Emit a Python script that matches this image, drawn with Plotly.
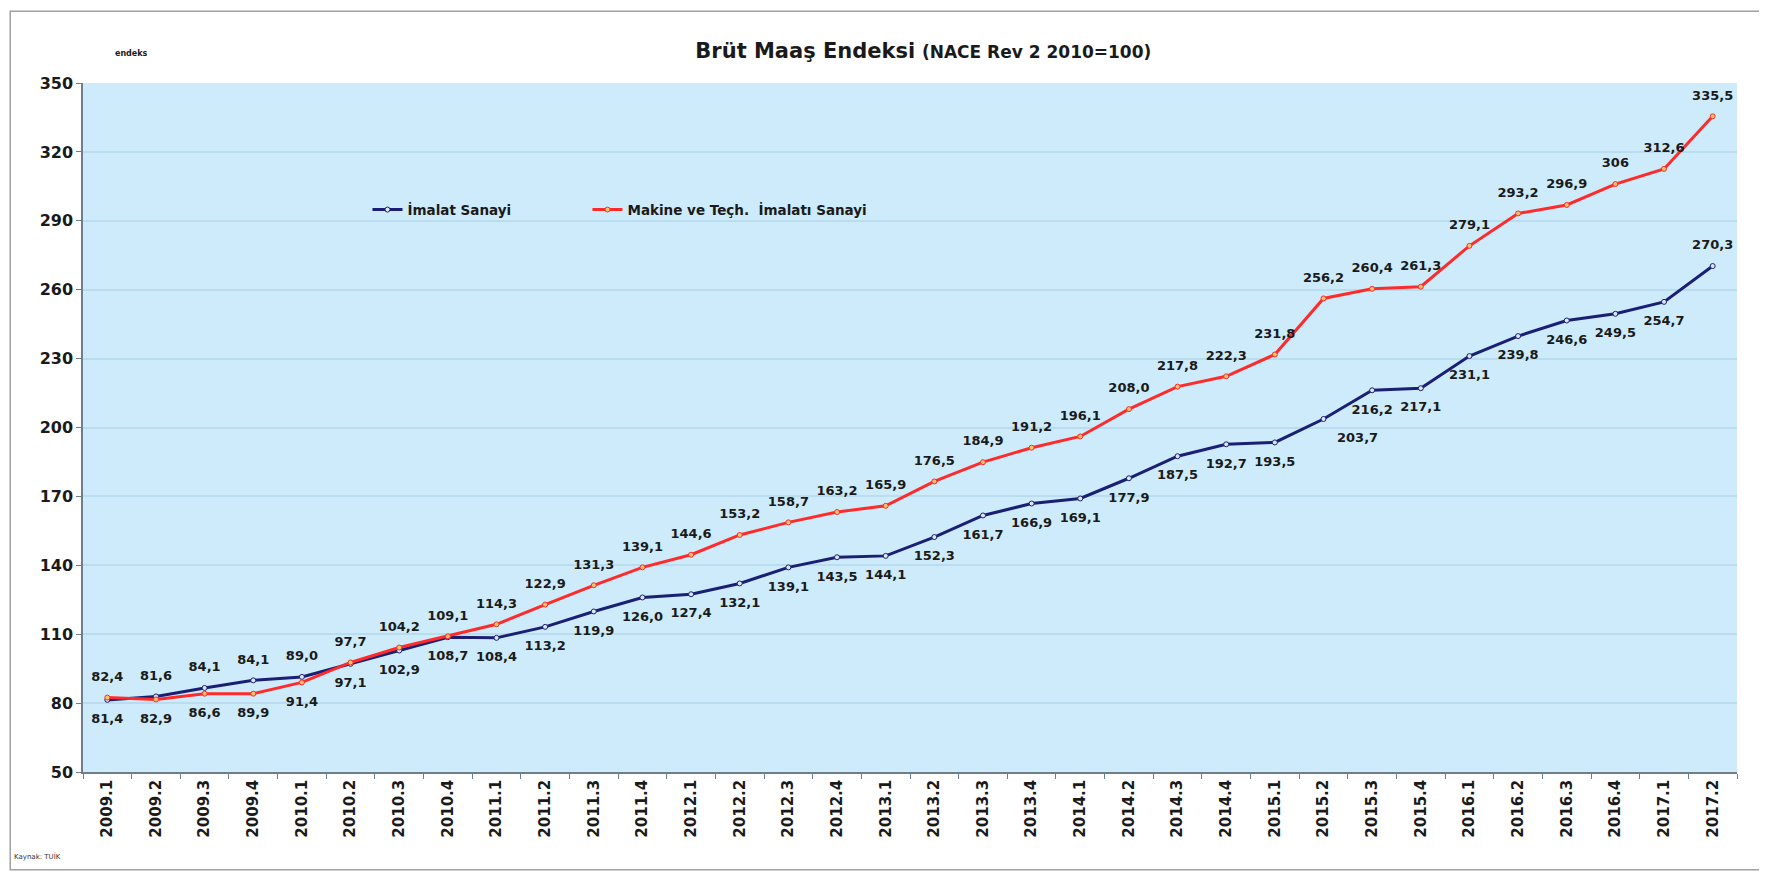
import plotly.graph_objects as go

donemler = ["2009.1", "2009.2", "2009.3", "2009.4",
            "2010.1", "2010.2", "2010.3", "2010.4",
            "2011.1", "2011.2", "2011.3", "2011.4",
            "2012.1", "2012.2", "2012.3", "2012.4",
            "2013.1", "2013.2", "2013.3", "2013.4",
            "2014.1", "2014.2", "2014.3", "2014.4",
            "2015.1", "2015.2", "2015.3", "2015.4",
            "2016.1", "2016.2", "2016.3", "2016.4",
            "2017.1", "2017.2"]

imalat = [81.4, 82.9, 86.6, 89.9, 91.4, 97.1, 102.9, 108.7, 108.4, 113.2,
          119.9, 126.0, 127.4, 132.1, 139.1, 143.5, 144.1, 152.3, 161.7, 166.9,
          169.1, 177.9, 187.5, 192.7, 193.5, 203.7, 216.2, 217.1, 231.1, 239.8,
          246.6, 249.5, 254.7, 270.3]

makine = [82.4, 81.6, 84.1, 84.1, 89.0, 97.7, 104.2, 109.1, 114.3, 122.9,
          131.3, 139.1, 144.6, 153.2, 158.7, 163.2, 165.9, 176.5, 184.9, 191.2,
          196.1, 208.0, 217.8, 222.3, 231.8, 256.2, 260.4, 261.3, 279.1, 293.2,
          296.9, 306.0, 312.6, 335.5]

y_ticks = [50, 80, 110, 140, 170, 200, 230, 260, 290, 320, 350]


def etiket(v):
    # excel style: comma decimal, "306" shown without decimal
    if v == 306:
        return "306"
    return f"{v:.1f}".replace(".", ",")


font_ana = "DejaVu Sans, Verdana, sans-serif"
mavi = "#1B1F74"
kirmizi = "#FF2B2B"
yazi = "#1a1a1a"

fig = go.Figure()

fig.add_trace(go.Scatter(
    x=donemler, y=imalat, name="İmalat Sanayi", legend="legend",
    mode="lines+markers",
    line=dict(color=mavi, width=3),
    marker=dict(size=5, color="#DDE6F0", line=dict(color=mavi, width=1)),
))

fig.add_trace(go.Scatter(
    x=donemler, y=makine, name="Makine ve Teçh.  İmalatı Sanayi", legend="legend2",
    mode="lines+markers",
    line=dict(color=kirmizi, width=3),
    marker=dict(size=5, color="#F6C36A", line=dict(color=kirmizi, width=1)),
))

# labels: red ones above both lines, blue ones below both lines
ust = [max(a, b) for a, b in zip(imalat, makine)]
alt = [min(a, b) for a, b in zip(imalat, makine)]

mavi_konum = ["bottom center"] * len(donemler)
mavi_konum[donemler.index("2015.2")] = "bottom right"
mavi_konum[-1] = "top center"

# invisible markers push the text away from the line
fig.add_trace(go.Scatter(
    x=donemler, y=alt, mode="markers+text", showlegend=False, hoverinfo="skip",
    marker=dict(size=20, color="rgba(0,0,0,0)"),
    text=[etiket(v) for v in imalat], textposition=mavi_konum,
    textfont=dict(family=font_ana, size=13, color=yazi, weight="bold"),
))

fig.add_trace(go.Scatter(
    x=donemler, y=ust, mode="markers+text", showlegend=False, hoverinfo="skip",
    marker=dict(size=20, color="rgba(0,0,0,0)"),
    text=[etiket(v) for v in makine], textposition="top center",
    textfont=dict(family=font_ana, size=13, color=yazi, weight="bold"),
))

legend_ortak = dict(
    orientation="h", y=0.816, xanchor="left", yanchor="middle",
    bgcolor="rgba(0,0,0,0)",
    font=dict(size=13.5, family=font_ana, color=yazi, weight="bold"),
    itemwidth=30,
)

fig.update_layout(
    width=1767, height=873,
    paper_bgcolor="white",
    plot_bgcolor="#CDEBFB",
    margin=dict(l=75, r=38, t=75, b=109),
    font=dict(family=font_ana, color=yazi),
    title=dict(
        text="<b>Brüt Maaş Endeksi</b> <span style='font-size:17px'><b>(NACE Rev 2 2010=100)</b></span>",
        x=0.518, xanchor="center", y=0.951, yanchor="middle",
        font=dict(size=21, family=font_ana, color=yazi),
    ),
    legend=dict(x=0.172, **legend_ortak),
    legend2=dict(x=0.305, **legend_ortak),
    showlegend=True,
)

fig.update_xaxes(
    type="category",
    tickangle=-90,
    tickfont=dict(size=15, family=font_ana, weight="bold", color=yazi),
    showline=True, linecolor="#6E7F8A", linewidth=1.5,
    ticks="outside", tickson="boundaries", ticklen=5, tickcolor="#6E7F8A",
    showgrid=False,
    range=[-0.5, len(donemler) - 0.5],
)

fig.update_yaxes(
    range=[50, 350],
    tickvals=y_ticks,
    tickfont=dict(size=16, family=font_ana, weight="bold", color=yazi),
    showline=True, linecolor="#6E7F8A", linewidth=1.5,
    ticks="outside", ticklen=5, tickcolor="#6E7F8A",
    showgrid=True, gridcolor="#B9DCEF", gridwidth=1.5,
    zeroline=False,
)

fig.add_annotation(
    text="<b>endeks</b>", xref="paper", yref="paper",
    x=0.018, y=1.0435, xanchor="left", yanchor="middle",
    showarrow=False, font=dict(size=8, family=font_ana, color=yazi),
)

fig.add_annotation(
    text="Kaynak: TUİK", xref="paper", yref="paper",
    x=-0.043, y=-0.122, xanchor="left", yanchor="middle",
    showarrow=False, font=dict(size=7, family=font_ana, color="#333333"),
)

# outer chart border
fig.add_shape(
    type="rect", xref="paper", yref="paper",
    x0=-0.044, x1=1.014, y0=-0.142, y1=1.104,
    line=dict(color="#A0A0A0", width=1.5),
)

fig.write_html("out.html")
